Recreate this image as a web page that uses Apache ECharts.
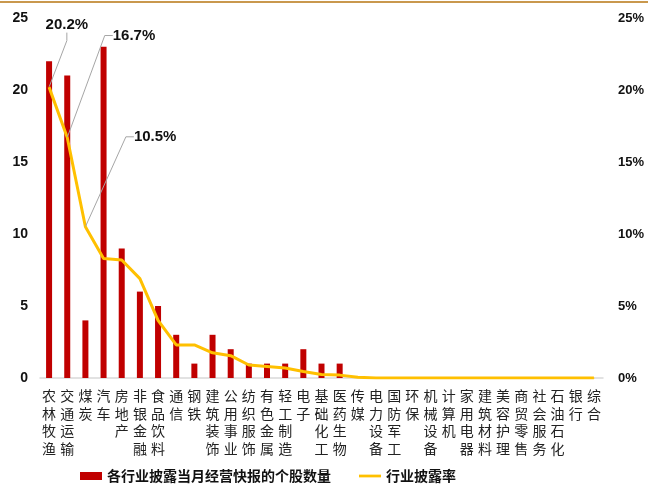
<!DOCTYPE html>
<html>
<head>
<meta charset="utf-8">
<script src="https://cdn.jsdelivr.net/npm/echarts@6/dist/echarts.min.js"></script>
<style>
  html, body { margin: 0; padding: 0; background: #fff; }
  #chart { width: 648px; height: 485px; }
</style>
</head>
<body>
<div id="chart"></div>
<script>
// Industry names (shown as stacked vertical labels)
const industries = [
  '农林牧渔', '交通运输', '煤炭', '汽车', '房地产', '非银金融', '食品饮料', '通信',
  '钢铁', '建筑装饰', '公用事业', '纺织服饰', '有色金属', '轻工制造', '电子', '基础化工',
  '医药生物', '传媒', '电力设备', '国防军工', '环保', '机械设备', '计算机', '家用电器',
  '建筑材料', '美容护理', '商贸零售', '社会服务', '石油石化', '银行', '综合'
];

// Number of stocks per industry that published monthly operating bulletins
const stockCounts = [
  22, 21, 4, 23, 9, 6, 5, 3,
  1, 3, 2, 1, 1, 1, 2, 1,
  1, 0, 0, 0, 0, 0, 0, 0,
  0, 0, 0, 0, 0, 0, 0
];

// Disclosure rate per industry, percent
const disclosureRate = [
  20.2, 16.7, 10.5, 8.3, 8.2, 6.9, 4.0, 2.3,
  2.3, 1.75, 1.55, 0.9, 0.8, 0.7, 0.45, 0.25,
  0.2, 0.05, 0, 0, 0, 0, 0, 0,
  0, 0, 0, 0, 0, 0, 0
];

// Points that carry a value callout, with the callout's shift from the point
const callouts = { 0: [-9, -62], 1: [40, -102], 2: [43, -90] };

const countTicks = [0, 5, 10, 15, 20, 25];

const chart = echarts.init(document.getElementById('chart'), null, { renderer: 'canvas' });

const rateData = disclosureRate.map((v, i) => {
  if (callouts[i] !== undefined) {
    return { value: v, label: { show: true } };
  }
  return v;
});

chart.setOption({
  animation: false,
  backgroundColor: '#ffffff',
  graphic: [
    {
      type: 'rect',
      shape: { x: 0, y: 1, width: 648, height: 2 },
      style: { fill: '#C9984D' },
      silent: true
    }
  ],
  grid: { left: 40, right: 45, top: 18, bottom: 107, containLabel: false },
  legend: {
    left: 75,
    top: 464,
    itemGap: 28,
    itemWidth: 22,
    itemHeight: 8,
    textStyle: {
      fontFamily: 'Noto Sans CJK SC',
      fontSize: 14,
      color: '#111',
      fontWeight: 'bold'
    },
    data: [
      { name: '各行业披露当月经营快报的个股数量', icon: 'rect' },
      { name: '行业披露率', icon: 'path://M0,0L24,0L24,3L0,3Z' }
    ]
  },
  xAxis: {
    type: 'category',
    data: industries,
    axisLine: { show: true, lineStyle: { color: '#D9D9D9', width: 1.5 } },
    axisTick: { show: false },
    axisLabel: {
      interval: 0,
      margin: 9,
      fontFamily: 'Noto Sans CJK SC',
      fontSize: 14,
      lineHeight: 17.5,
      color: '#222',
      formatter: (v) => v.split('').join('\n')
    }
  },
  yAxis: [
    {
      type: 'value',
      min: countTicks[0],
      max: countTicks[countTicks.length - 1],
      interval: 5,
      splitLine: { show: false },
      axisLine: { show: false },
      axisTick: { show: false },
      axisLabel: {
        margin: 12,
        fontFamily: 'Arial',
        fontSize: 14,
        fontWeight: 'bold',
        color: '#111'
      }
    },
    {
      type: 'value',
      min: 0,
      max: 25,
      interval: 5,
      position: 'right',
      splitLine: { show: false },
      axisLine: { show: false },
      axisTick: { show: false },
      axisLabel: {
        margin: 15,
        fontFamily: 'Arial',
        fontSize: 13,
        fontWeight: 'bold',
        color: '#111',
        formatter: '{value}%'
      }
    }
  ],
  series: [
    {
      name: '各行业披露当月经营快报的个股数量',
      type: 'bar',
      yAxisIndex: 0,
      barWidth: 6,
      itemStyle: { color: '#C00000' },
      data: stockCounts
    },
    {
      name: '行业披露率',
      type: 'line',
      yAxisIndex: 1,
      symbol: 'circle',
      symbolSize: 1,
      showSymbol: true,
      lineStyle: { color: '#FFC000', width: 3 },
      itemStyle: { color: '#FFC000' },
      label: {
        show: false,
        position: 'right',
        distance: 5,
        formatter: (p) => p.value.toFixed(1) + '%',
        fontFamily: 'Arial',
        fontSize: 15,
        fontWeight: 'bold',
        color: '#111'
      },
      labelLine: {
        show: true,
        length2: 8,
        lineStyle: { color: '#A6A6A6', width: 1 }
      },
      labelLayout: (params) => {
        const shift = callouts[params.dataIndex];
        if (!shift) return {};
        return { dx: shift[0], dy: shift[1] };
      },
      data: rateData
    }
  ]
});
</script>
</body>
</html>
